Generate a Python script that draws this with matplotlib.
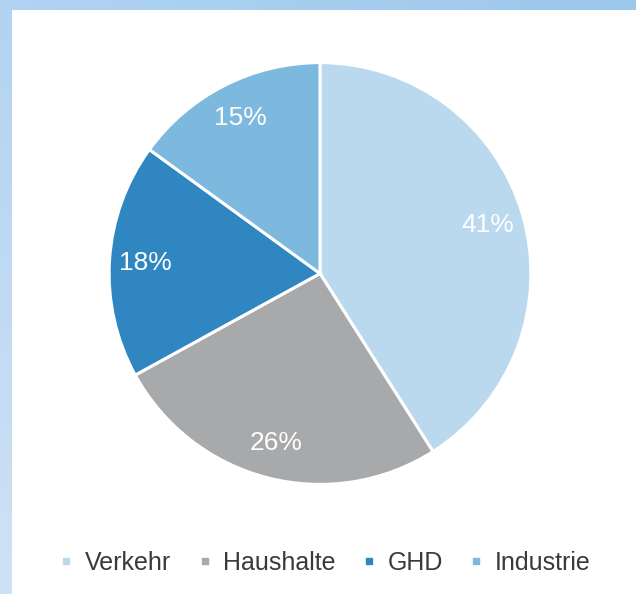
import numpy as np
import matplotlib
matplotlib.use("Agg")
import matplotlib.pyplot as plt
from matplotlib.lines import Line2D

plt.rcParams['font.family'] = ['Liberation Sans', 'DejaVu Sans']

categories = ["Verkehr", "Haushalte", "GHD", "Industrie"]
shares = [41, 26, 18, 15]
pct_labels = ["41%", "26%", "18%", "15%"]
colors = ["#bad9ee", "#a7a9ab", "#2f86c1", "#7db8de"]

W, H = 636, 594
fig = plt.figure(figsize=(W / 100, H / 100), dpi=100)

# background frame with light-blue gradient bands (top and left)
bg = fig.add_axes([0, 0, 1, 1])
img = np.ones((H, W, 3))
c_tl = np.array([0xb2, 0xd3, 0xf1]) / 255
c_tr = np.array([0x9c, 0xc8, 0xec]) / 255
c_bl = np.array([0xcf, 0xe1, 0xf6]) / 255
tx = np.linspace(0, 1, W)[None, :, None]
img[:10, :, :] = c_tl * (1 - tx) + c_tr * tx
ty = np.linspace(0, 1, H)[:, None, None]
img[:, :12, :] = (c_tl * (1 - ty) + c_bl * ty)
img[:10, :12, :] = c_tl
bg.imshow(img, extent=[0, W, 0, H], origin='upper', aspect='auto')
bg.set_axis_off()

# pie
cx, cy, R = 320, 273.5, 213
ax = fig.add_axes([(cx - R) / W, (H - cy - R) / H, 2 * R / W, 2 * R / H])
wedges, texts = ax.pie(
    shares, colors=colors, startangle=90, counterclock=False,
    labels=pct_labels, labeldistance=0.83,
    wedgeprops=dict(edgecolor="white", linewidth=2.2),
    textprops=dict(color="white", fontsize=19),
)
for t in texts:
    t.set_ha("center")
    t.set_va("center")
ax.set_xlim(-1.01, 1.01)
ax.set_ylim(-1.01, 1.01)
ax.set_aspect("equal")
ax.set_axis_off()

handles = [Line2D([], [], marker="s", linestyle="none", markersize=4.5,
                  markerfacecolor=c, markeredgecolor=c) for c in colors]
fig.legend(handles, categories, loc="center", bbox_to_anchor=(325.5 / W, 1 - 563 / H),
           ncol=4, frameon=False, fontsize=18, handlelength=0.5,
           handletextpad=0.5, columnspacing=1.08, labelcolor="#3a3a3a")

fig.savefig("out.png", dpi=100)
